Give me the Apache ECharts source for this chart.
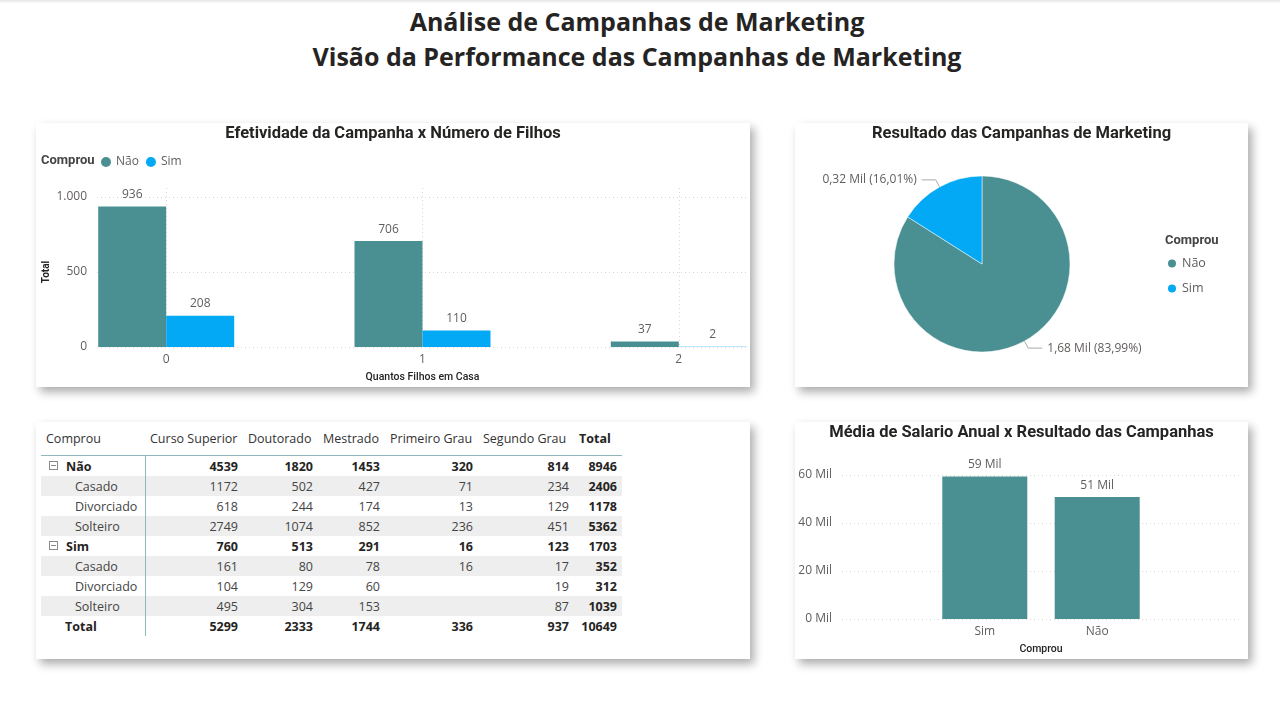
<!DOCTYPE html>
<html><head><meta charset="utf-8">
<script src="https://cdn.jsdelivr.net/npm/echarts@6/dist/echarts.min.js"></script>
<style>
html,body{margin:0;padding:0;background:#fff;width:1280px;height:715px;overflow:hidden;font-family:'Open Sans',sans-serif;}
#topline{position:absolute;left:0;top:0;width:1280px;height:3px;background:linear-gradient(#e6e6e6,#fbfbfb);}
#title{position:absolute;left:0;top:4px;width:1274px;text-align:center;font-family:'Open Sans',sans-serif;font-weight:700;font-size:25px;line-height:35px;color:#252423;}
.panel{position:absolute;background:#fff;box-shadow:4px 5px 9px rgba(0,0,0,0.33);}
.chart{position:absolute;left:0;top:0;width:100%;height:100%;}
table{position:absolute;left:5px;top:0;border-collapse:collapse;table-layout:fixed;font-family:'Open Sans',sans-serif;font-size:12.5px;color:#444;}
th{font-weight:400;text-align:left;padding:0 0 0 5px;height:33px;border-bottom:1px solid #8db7ba;white-space:nowrap;color:#333;}
th.tot{font-weight:700;color:#252423;}
td{height:20px;padding:0 5px 0 0;text-align:right;white-space:nowrap;}
td.rh{text-align:left;padding:0;border-right:1px solid #8db7ba;}
tr.alt td{background:#eeeeee;}
.b{font-weight:700;color:#252423;}
.icon{display:inline-block;width:7px;height:7px;border:1px solid #8a8a8a;position:relative;margin:0 8px 0 8px;vertical-align:1px;}
.icon:after{content:'';position:absolute;left:1px;right:1px;top:3px;height:1px;background:#8a8a8a;}
</style></head>
<body>
<div id="topline"></div>
<div id="title">Análise de Campanhas de Marketing<br>Visão da Performance das Campanhas de Marketing</div>
<div class="panel" style="left:36px;top:123px;width:714px;height:264px;"><div id="c1" class="chart"></div></div>
<div class="panel" style="left:795px;top:123px;width:453px;height:264px;"><div id="c2" class="chart"></div></div>
<div class="panel" style="left:36px;top:422px;width:714px;height:237px;" id="tp"></div>
<div class="panel" style="left:795px;top:422px;width:453px;height:237px;"><div id="c4" class="chart"></div></div>
<script>
// ---- data ----
const compraLabels = ['Não', 'Sim'];
const filhosCategories = [0, 1, 2];
const filhosNao = [936, 706, 37];
const filhosSim = [208, 110, 2];
const pieValues = [1679, 320];            // Não, Sim
const salaryCategories = ['Sim', 'Não'];
const salaryValues = [59400, 50800];
const salaryTicks = [0, 20000, 40000, 60000];
const eduColumns = ['Curso Superior', 'Doutorado', 'Mestrado', 'Primeiro Grau', 'Segundo Grau'];
const estadoCivil = ['Casado', 'Divorciado', 'Solteiro'];
const naoCasado = [1172, 502, 427, 71, 234];
const naoDivorciado = [618, 244, 174, 13, 129];
const naoSolteiro = [2749, 1074, 852, 236, 451];
const simCasado = [161, 80, 78, 16, 17];
const simDivorciado = [104, 129, 60, null, 19];
const simSolteiro = [495, 304, 153, null, 87];

// ---- styles ----
const TEAL = '#4a8f92', BLUE = '#03a9f4';
const LBL = '#605e5c', TITLE = '#252423';
const FONT = "'Open Sans', sans-serif";
const TFONT = "Roboto, sans-serif";
const gridLine = {show: true, lineStyle: {color: '#d6d6d6', type: [1, 3], width: 1}};
const noLine = {show: false};

// ---- chart 1 ----
const c1 = echarts.init(document.getElementById('c1'));
const barLabel = {show: true, position: 'top', distance: 6, color: LBL, fontSize: 12, fontFamily: FONT};
const PAD = 0.27;                 // half-band padding around first/last category
const G1 = {left: 61, right: 2, top: 74, bottom: 40};
const W1 = 714 - G1.left - G1.right;
const UNIT1 = W1 / (filhosCategories.length - 1 + 2 * PAD);
c1.setOption({
  animation: false,
  textStyle: {fontFamily: FONT},
  title: [
    {text: 'Efetividade da Campanha x Número de Filhos', left: 'center', top: 2, padding: 0,
     textStyle: {fontFamily: TFONT, fontWeight: 700, fontSize: 16.5, color: TITLE}},
    {text: 'Comprou', left: 5, top: 31, padding: 0, textStyle: {fontFamily: TFONT, fontWeight: 700, fontSize: 13, color: '#444'}}
  ],
  legend: {left: 65, top: 33, padding: 0, icon: 'circle', itemWidth: 10, itemHeight: 10, itemGap: 7,
    textStyle: {fontSize: 12, color: LBL, fontFamily: FONT}, data: compraLabels},
  grid: [
    Object.assign({outerBoundsMode: 'none', containLabel: false}, G1),
    {outerBoundsMode: 'none', containLabel: false, left: G1.left + PAD * UNIT1, right: G1.right + PAD * UNIT1, top: G1.top - 9, bottom: G1.bottom}
  ],
  xAxis: [
    {type: 'value', gridIndex: 0, min: -PAD, max: filhosCategories.length - 1 + PAD,
     axisLine: {show: false, onZero: false}, axisTick: noLine, splitLine: noLine, axisLabel: noLine,
     name: 'Quantos Filhos em Casa', nameLocation: 'middle', nameGap: 25,
     nameTextStyle: {fontFamily: TFONT, fontSize: 10.5, fontWeight: 500, color: TITLE}},
    {type: 'value', gridIndex: 1, min: filhosCategories[0], max: filhosCategories[filhosCategories.length - 1], interval: 1,
     axisLine: {show: false, onZero: false}, axisTick: noLine, splitLine: gridLine,
     axisLabel: {color: LBL, fontSize: 12, margin: 7}}
  ],
  yAxis: [
    {type: 'value', gridIndex: 0, min: 0, max: 1000, interval: 500,
     axisLine: {show: false, onZero: false}, axisTick: noLine,
     axisLabel: {color: LBL, fontSize: 12, margin: 10, formatter: v => v.toLocaleString('pt-BR')},
     splitLine: gridLine,
     name: 'Total', nameLocation: 'middle', nameGap: 46, nameRotate: 90, nameMoveOverlap: false,
     nameTextStyle: {fontFamily: TFONT, fontSize: 10, fontWeight: 700, color: TITLE}},
    {type: 'value', gridIndex: 1, min: 0, max: 1000, show: false}
  ],
  series: [
    {name: compraLabels[0], type: 'bar', xAxisIndex: 0, yAxisIndex: 0, barWidth: 68, barGap: '0%', itemStyle: {color: TEAL},
     label: barLabel, data: filhosCategories.map((c, i) => [c, filhosNao[i]])},
    {name: compraLabels[1], type: 'bar', xAxisIndex: 0, yAxisIndex: 0, barWidth: 68, barGap: '0%', itemStyle: {color: BLUE},
     label: barLabel, data: filhosCategories.map((c, i) => [c, filhosSim[i]])},
    {type: 'line', xAxisIndex: 1, yAxisIndex: 1, data: [], silent: true}
  ]
});

// ---- chart 2 (pie) ----
const c2 = echarts.init(document.getElementById('c2'));
const fmtDec = (x) => x.toFixed(2).replace('.', ',');
c2.setOption({
  animation: false,
  textStyle: {fontFamily: FONT},
  title: [
    {text: 'Resultado das Campanhas de Marketing', left: 'center', top: 2, padding: 0,
     textStyle: {fontFamily: TFONT, fontWeight: 700, fontSize: 16.5, color: TITLE}},
    {text: 'Comprou', left: 370, top: 111, padding: 0, textStyle: {fontFamily: TFONT, fontWeight: 700, fontSize: 13, color: '#444'}}
  ],
  legend: {orient: 'vertical', left: 371, top: 134, padding: 0, icon: 'circle', itemWidth: 10, itemHeight: 10, itemGap: 12,
    textStyle: {fontSize: 12.5, color: LBL, fontFamily: FONT}, data: compraLabels},
  series: [{
    type: 'pie', center: [187, 141], radius: 88, startAngle: 90, clockwise: true,
    itemStyle: {borderColor: '#fff', borderWidth: 0.5},
    label: {color: LBL, fontSize: 12, fontFamily: FONT,
      formatter: p => fmtDec(p.value / 1000) + ' Mil (' + fmtDec(p.percent) + '%)'},
    labelLine: {length: 8, length2: 14, lineStyle: {color: '#aaa'}},
    data: compraLabels.map((n, i) => ({name: n, value: pieValues[i], itemStyle: {color: i === 0 ? TEAL : BLUE}}))
  }]
});

// ---- chart 4 (salary) ----
const c4 = echarts.init(document.getElementById('c4'));
const PAD4 = 1.27;
const G4 = {left: 47, right: 8, top: 53, bottom: 40};
const W4 = 453 - G4.left - G4.right;
const UNIT4 = W4 / (salaryCategories.length - 1 + 2 * PAD4);
c4.setOption({
  animation: false,
  textStyle: {fontFamily: FONT},
  title: {text: 'Média de Salario Anual x Resultado das Campanhas', left: 'center', top: 2, padding: 0,
    textStyle: {fontFamily: TFONT, fontWeight: 700, fontSize: 16.5, color: TITLE}},
  grid: [
    Object.assign({outerBoundsMode: 'none', containLabel: false}, G4),
    {outerBoundsMode: 'none', containLabel: false, left: G4.left + PAD4 * UNIT4, right: G4.right + PAD4 * UNIT4, top: G4.top, bottom: G4.bottom}
  ],
  xAxis: [
    {type: 'value', gridIndex: 0, min: -PAD4, max: salaryCategories.length - 1 + PAD4,
     axisLine: {show: false, onZero: false}, axisTick: noLine, splitLine: noLine, axisLabel: noLine,
     name: 'Comprou', nameLocation: 'middle', nameGap: 25,
     nameTextStyle: {fontFamily: TFONT, fontSize: 10.5, fontWeight: 500, color: TITLE}},
    {type: 'category', gridIndex: 1, data: salaryCategories, boundaryGap: false,
     axisLine: {show: false, onZero: false}, axisTick: noLine, splitLine: noLine,
     axisLabel: {color: LBL, fontSize: 12, margin: 7}}
  ],
  yAxis: [
    {type: 'value', gridIndex: 0, min: salaryTicks[0], max: salaryTicks[salaryTicks.length - 1], interval: salaryTicks[1] - salaryTicks[0],
     axisLine: {show: false, onZero: false}, axisTick: noLine,
     axisLabel: {color: LBL, fontSize: 12, margin: 10, formatter: v => (v / 1000) + ' Mil'},
     splitLine: gridLine},
    {type: 'value', gridIndex: 1, min: salaryTicks[0], max: salaryTicks[salaryTicks.length - 1], show: false}
  ],
  series: [
    {type: 'bar', xAxisIndex: 0, yAxisIndex: 0, barWidth: 85, itemStyle: {color: TEAL},
     label: {show: true, position: 'top', distance: 6, color: LBL, fontSize: 12, fontFamily: FONT,
       formatter: p => Math.round(p.value[1] / 1000) + ' Mil'},
     data: salaryCategories.map((c, i) => [i, salaryValues[i]])},
    {type: 'line', xAxisIndex: 1, yAxisIndex: 1, data: [], silent: true}
  ]
});

// ---- table ----
const sum = a => a.reduce((s, v) => s + (v || 0), 0);
const colSum = rows => eduColumns.map((_, j) => sum(rows.map(r => r[j])));
const groups = [
  {name: compraLabels[0], rows: [naoCasado, naoDivorciado, naoSolteiro]},
  {name: compraLabels[1], rows: [simCasado, simDivorciado, simSolteiro]}
];
const widths = [104, 98, 75, 67, 93, 96, 48];
let html = '<table><colgroup>' + widths.map(w => '<col style="width:' + w + 'px">').join('') + '</colgroup>';
html += '<tr><th>Comprou</th>' + eduColumns.map(c => '<th>' + c + '</th>').join('') + '<th class="tot">Total</th></tr>';
const cell = (v, b) => '<td' + (b ? ' class="b"' : '') + '>' + (v == null ? '' : v) + '</td>';
let rowIdx = 0;
groups.forEach(g => {
  const gt = colSum(g.rows);
  html += '<tr' + (rowIdx++ % 2 ? ' class="alt"' : '') + '><td class="rh b"><span class="icon"></span>' + g.name + '</td>' +
    gt.map(v => cell(v, true)).join('') + cell(sum(gt), true) + '</tr>';
  g.rows.forEach((r, k) => {
    html += '<tr' + (rowIdx++ % 2 ? ' class="alt"' : '') + '><td class="rh" style="padding-left:34px">' + estadoCivil[k] + '</td>' +
      r.map(v => cell(v, false)).join('') + cell(sum(r), true) + '</tr>';
  });
});
const all = groups.flatMap(g => g.rows);
const gtot = colSum(all);
html += '<tr><td class="rh b" style="padding-left:24px">Total</td>' + gtot.map(v => cell(v, true)).join('') + cell(sum(gtot), true) + '</tr>';
html += '</table>';
document.getElementById('tp').innerHTML = html;
</script>
</body></html>
